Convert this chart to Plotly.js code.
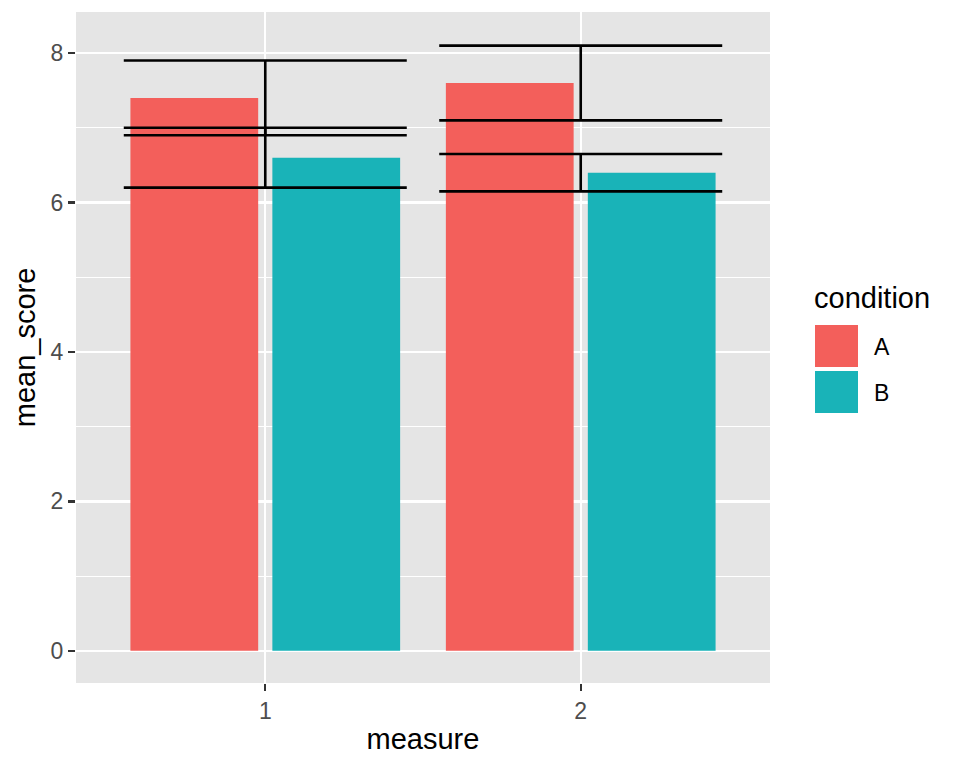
<!DOCTYPE html>
<html>
<head>
<meta charset="utf-8">
<script src="https://cdn.plot.ly/plotly-3.0.1.min.js"></script>
<style>html,body{margin:0;padding:0;background:#fff;}#chart{width:960px;height:768px;}</style>
</head>
<body>
<div id="chart"></div>
<script>
// ---- data ----
const measures = [1, 2];
const conditions = ["A", "B"];
const meanA = [7.4, 7.6];
const meanB = [6.6, 6.4];
const errA = [0.5, 0.5];
const errB = [0.4, 0.25];
const colors = ["#F35F5B", "#19B3B8"];

// ---- layout helpers (pixel -> paper) ----
const M = {l: 76, r: 190, t: 12, b: 85};
const PW = 960 - M.l - M.r, PH = 768 - M.t - M.b;
const px = x => (x - M.l) / PW;
const py = y => (768 - M.b - y) / PH;

const font = "Liberation Sans, Arial, Helvetica, sans-serif";

const means = [meanA, meanB];
const errs = [errA, errB];

const traces = [];
conditions.forEach((c, i) => {
  traces.push({
    type: "bar", x: measures, y: means[i], name: c,
    marker: {color: colors[i], line: {width: 0}},
    showlegend: false, hoverinfo: "x+y+name"
  });
});
conditions.forEach((c, i) => {
  traces.push({
    type: "scatter", mode: "markers", x: measures, y: means[i],
    marker: {opacity: 0, size: 1},
    error_y: {type: "data", array: errs[i], visible: true, color: "#000", thickness: 2.6, width: 141.5},
    showlegend: false, hoverinfo: "skip"
  });
});

// manual ggplot-style legend
const keyTops = [325, 371];
const shapes = conditions.map((c, i) => ({
  type: "rect", xref: "paper", yref: "paper",
  x0: px(815), x1: px(858), y0: py(keyTops[i] + 42), y1: py(keyTops[i]),
  fillcolor: colors[i], line: {width: 0}
}));
const annotations = [{
  text: "condition", xref: "paper", yref: "paper", x: px(812), y: py(298),
  xanchor: "left", yanchor: "middle", showarrow: false,
  font: {family: font, size: 29, color: "#000"}
}].concat(conditions.map((c, i) => ({
  text: c, xref: "paper", yref: "paper", x: px(872), y: py(keyTops[i] + 22),
  xanchor: "left", yanchor: "middle", showarrow: false,
  font: {family: font, size: 23, color: "#000"}
})));

const layout = {
  width: 960, height: 768,
  margin: M,
  paper_bgcolor: "#FFFFFF",
  plot_bgcolor: "#E5E5E5",
  barmode: "group", bargap: 0.1, bargroupgap: 0.1,
  font: {family: font},
  showlegend: false,
  xaxis: {
    range: [0.4, 2.6], tickmode: "array", tickvals: measures, ticktext: measures.map(String),
    showgrid: true, gridcolor: "#FFFFFF", gridwidth: 2.2, zeroline: false,
    ticks: "outside", ticklen: 7, tickwidth: 2.2, tickcolor: "#333333",
    tickfont: {family: font, size: 23, color: "#4D4D4D"},
    showline: false,
    title: {text: "measure", font: {family: font, size: 29, color: "#000"}, standoff: 6}
  },
  yaxis: {
    range: [-0.43, 8.55], tickmode: "array", tickvals: [0, 2, 4, 6, 8],
    showgrid: true, gridcolor: "#FFFFFF", gridwidth: 2.2, zeroline: false,
    minor: {tickmode: "array", tickvals: [1, 3, 5, 7], showgrid: true, gridcolor: "#FFFFFF", gridwidth: 1.1, ticks: ""},
    ticks: "outside", ticklen: 7, tickwidth: 2.2, tickcolor: "#333333",
    tickfont: {family: font, size: 23, color: "#4D4D4D"},
    showline: false,
    title: {text: "mean_score", font: {family: font, size: 29, color: "#000"}, standoff: 6}
  },
  shapes: shapes,
  annotations: annotations
};

Plotly.newPlot("chart", traces, layout, {displayModeBar: false, staticPlot: true});
</script>
</body>
</html>
